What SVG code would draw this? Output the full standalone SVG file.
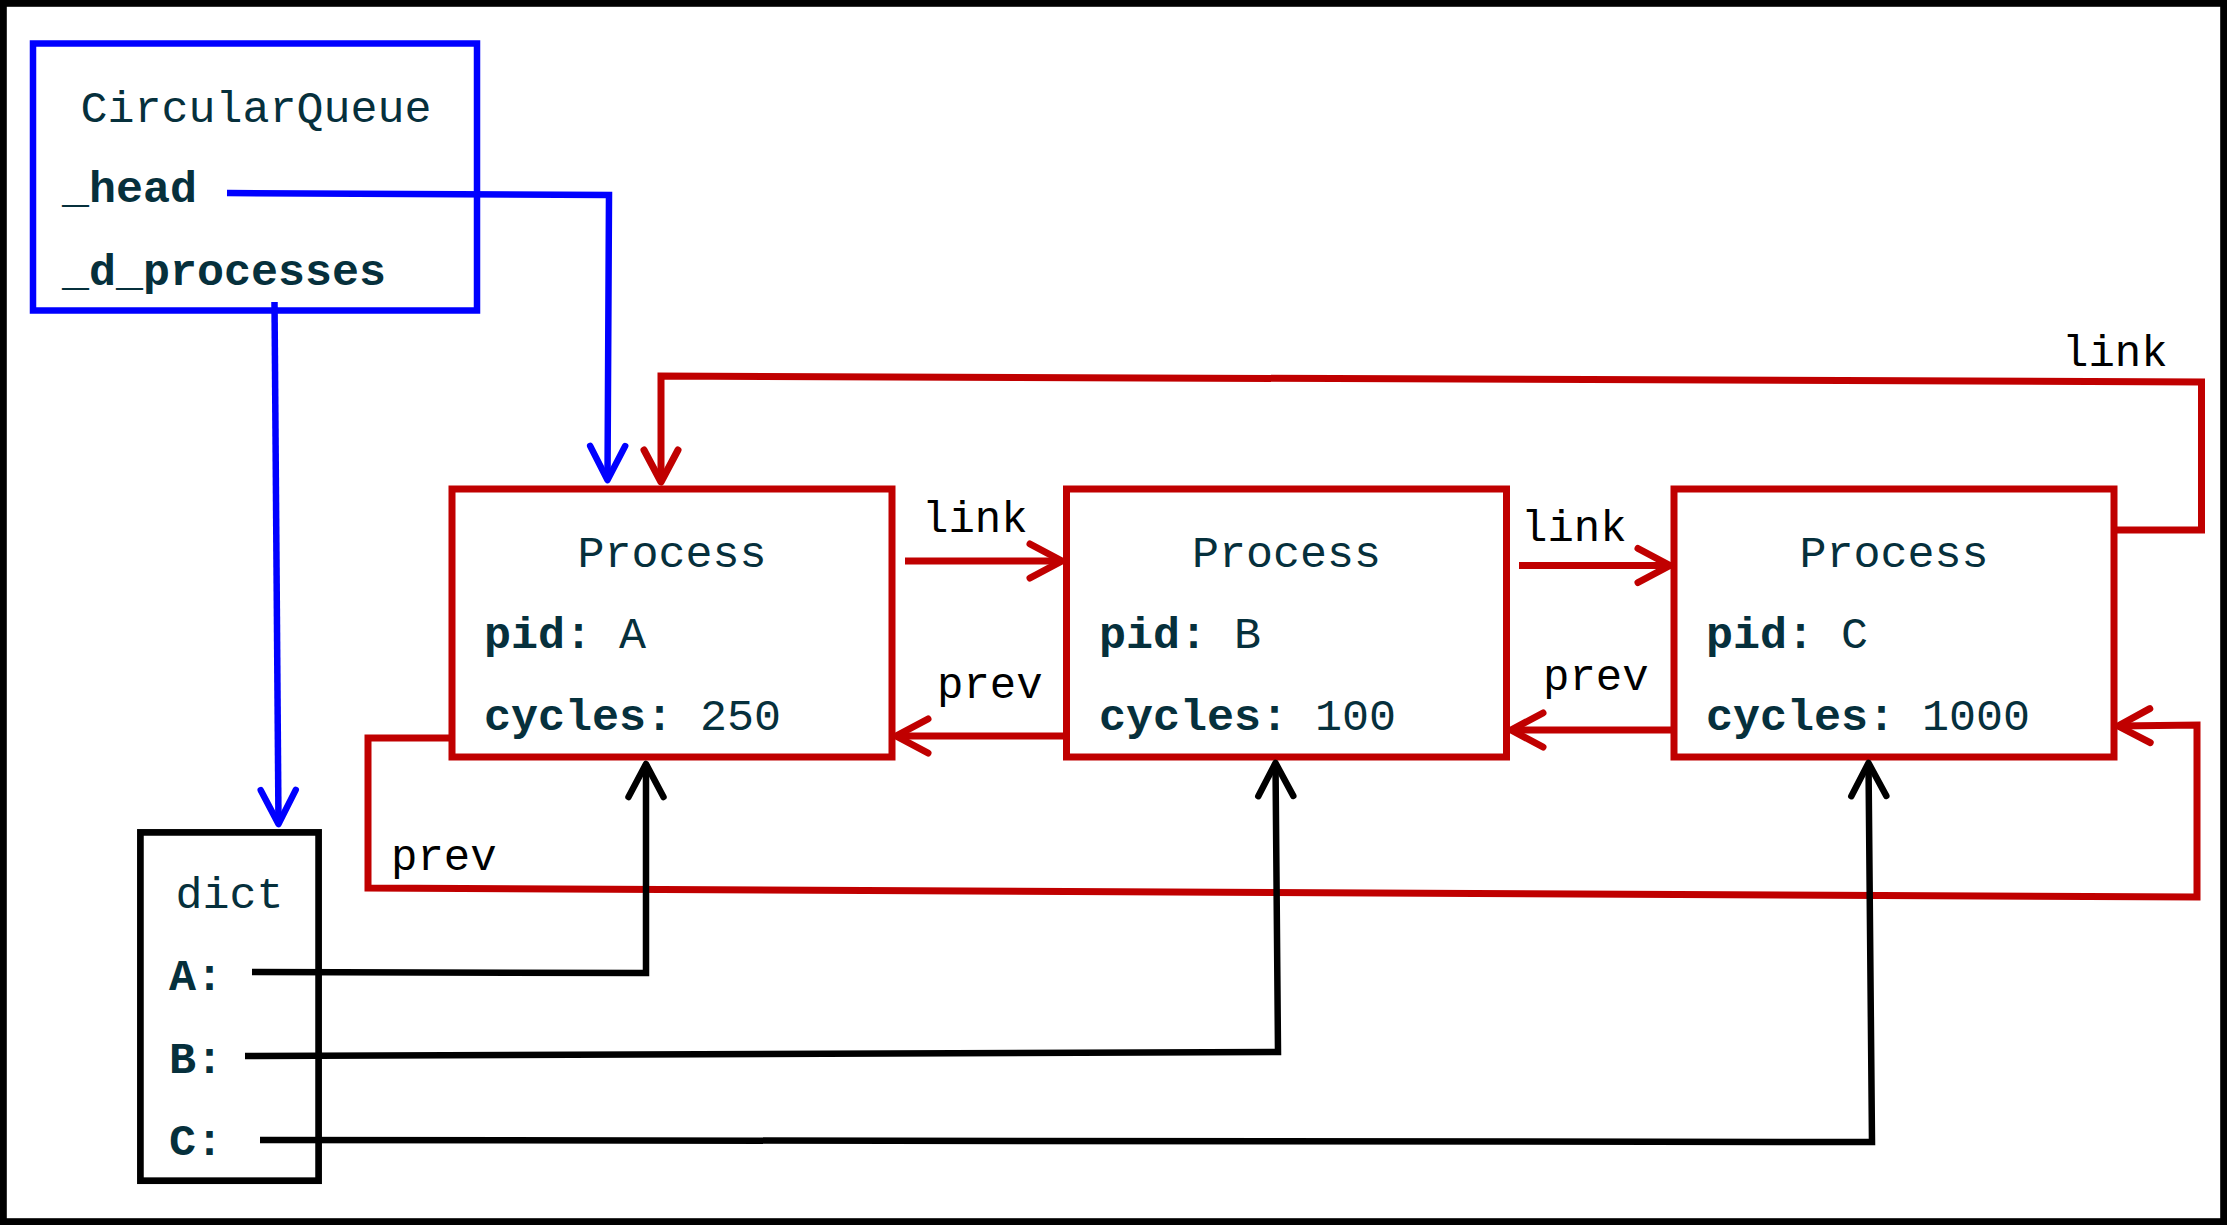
<svg xmlns="http://www.w3.org/2000/svg" width="2227" height="1225" viewBox="0 0 2227 1225">
  <style>
    .t { font-family: "Liberation Mono", "Courier New", monospace; font-size: 45px; fill: #06303c; }
    .b { font-weight: bold; }
    .lbl { font-family: "Liberation Mono", "Courier New", monospace; font-size: 44px; fill: #000000; }
    .mid { text-anchor: middle; }
    .box-blue { fill: #ffffff; stroke: #0000ff; stroke-width: 6.5; }
    .box-red { fill: #ffffff; stroke: #c00000; stroke-width: 7; }
    .box-black { fill: #ffffff; stroke: #000000; stroke-width: 6.7; }
    .c-blue { fill: none; stroke: #0000ff; stroke-width: 6.5; stroke-linejoin: miter; }
    .c-red { fill: none; stroke: #c00000; stroke-width: 7; stroke-linejoin: miter; }
    .c-black { fill: none; stroke: #000000; stroke-width: 6.5; stroke-linejoin: miter; }
  </style>
  <defs>
    <marker id="arB" viewBox="-42 -24 48 48" refX="0" refY="0" markerWidth="48" markerHeight="48" markerUnits="userSpaceOnUse" orient="auto">
      <path d="M-34,-17.5 L0,0 L-34,17.5" fill="none" stroke="#0000ff" stroke-width="6.5" stroke-linecap="round" stroke-linejoin="round"/>
    </marker>
    <marker id="arR" viewBox="-42 -24 48 48" refX="0" refY="0" markerWidth="48" markerHeight="48" markerUnits="userSpaceOnUse" orient="auto">
      <path d="M-32,-17 L0,0 L-32,17" fill="none" stroke="#c00000" stroke-width="7" stroke-linecap="round" stroke-linejoin="round"/>
    </marker>
    <marker id="arK" viewBox="-42 -24 48 48" refX="0" refY="0" markerWidth="48" markerHeight="48" markerUnits="userSpaceOnUse" orient="auto">
      <path d="M-33,-17.5 L0,0 L-33,17.5" fill="none" stroke="#000000" stroke-width="6.5" stroke-linecap="round" stroke-linejoin="round"/>
    </marker>
  </defs>

  <rect x="0" y="0" width="2227" height="1225" fill="#ffffff"/>
  <rect x="3.4" y="3.4" width="2220.2" height="1218.2" fill="none" stroke="#000000" stroke-width="6.8"/>

  <g id="circular-queue">
    <rect class="box-blue" x="33" y="43.5" width="444" height="267"/>
    <text class="t mid" x="256" y="122">CircularQueue</text>
    <text class="t b" x="62" y="202">_head</text>
    <text class="t b" x="62" y="285">_d_processes</text>
  </g>

  <g id="process-a">
    <rect class="box-red" x="452" y="489" width="440" height="268"/>
    <text class="t mid" x="672" y="567">Process</text>
    <text class="t" x="484" y="648"><tspan class="b">pid:</tspan> A</text>
    <text class="t" x="484" y="730"><tspan class="b">cycles:</tspan> 250</text>
  </g>

  <g id="process-b">
    <rect class="box-red" x="1066.5" y="489" width="440" height="268"/>
    <text class="t mid" x="1286.5" y="567">Process</text>
    <text class="t" x="1099" y="648"><tspan class="b">pid:</tspan> B</text>
    <text class="t" x="1099" y="730"><tspan class="b">cycles:</tspan> 100</text>
  </g>

  <g id="process-c">
    <rect class="box-red" x="1674" y="489" width="440" height="268"/>
    <text class="t mid" x="1894" y="567">Process</text>
    <text class="t" x="1706" y="648"><tspan class="b">pid:</tspan> C</text>
    <text class="t" x="1706" y="730"><tspan class="b">cycles:</tspan> 1000</text>
  </g>

  <g id="dict">
    <rect class="box-black" x="140.4" y="832.4" width="178.2" height="348.3"/>
    <text class="t mid" x="229.5" y="908">dict</text>
    <text class="t b" x="169" y="990">A:</text>
    <text class="t b" x="169" y="1073">B:</text>
    <text class="t b" x="169" y="1155">C:</text>
  </g>

  <g id="connectors">
    <polyline class="c-blue" points="227,193 609,195 607.5,480" marker-end="url(#arB)"/>
    <polyline class="c-blue" points="274.5,302 278.5,824" marker-end="url(#arB)"/>

    <polyline class="c-red" points="905,561 1062,561" marker-end="url(#arR)"/>
    <polyline class="c-red" points="1063,736 896,736" marker-end="url(#arR)"/>
    <polyline class="c-red" points="1519,565.5 1670,565.5" marker-end="url(#arR)"/>
    <polyline class="c-red" points="1671,730 1511,730" marker-end="url(#arR)"/>
    <polyline class="c-red" points="2117,530 2201.5,530 2201.5,382 661,376 661,482" marker-end="url(#arR)"/>
    <polyline class="c-red" points="449,738 368,738 368,888 2197,897 2197,725 2118,726" marker-end="url(#arR)"/>

    <polyline class="c-black" points="252,972 646,973 646,764" marker-end="url(#arK)"/>
    <polyline class="c-black" points="245,1056 1278,1052 1275.5,763" marker-end="url(#arK)"/>
    <polyline class="c-black" points="260,1140 1872,1142 1868.5,763" marker-end="url(#arK)"/>

    <text class="lbl" x="922" y="532">link</text>
    <text class="lbl" x="937" y="698">prev</text>
    <text class="lbl" x="1521" y="541">link</text>
    <text class="lbl" x="1543" y="690">prev</text>
    <text class="lbl" x="2062" y="366">link</text>
    <text class="lbl" x="391" y="870">prev</text>
  </g>
</svg>
